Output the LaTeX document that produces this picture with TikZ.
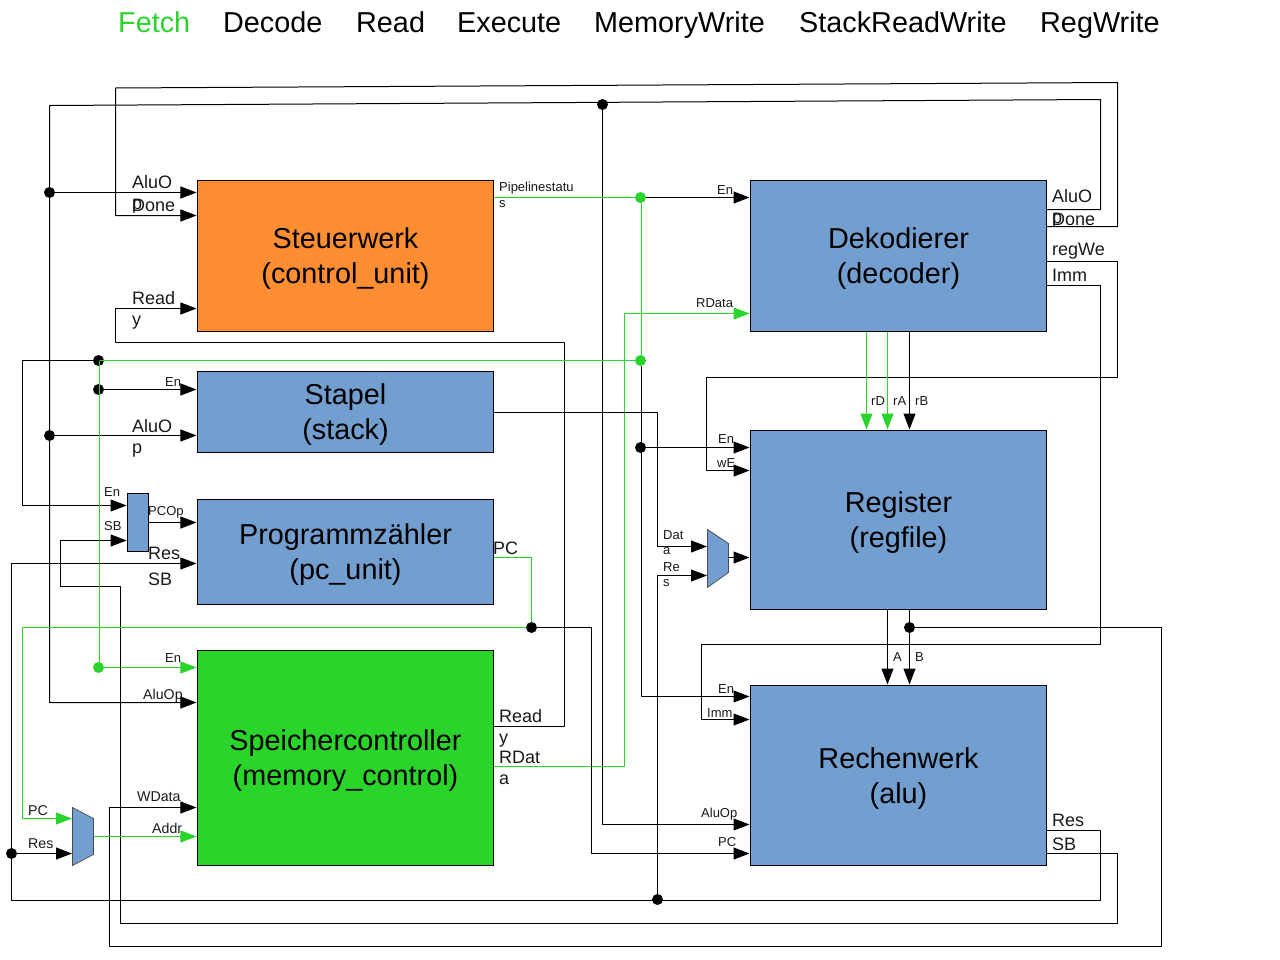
\documentclass[tikz,border=0pt]{standalone}
\usepackage{fontspec}
\setmainfont{Liberation Sans}
\usetikzlibrary{arrows.meta}

\definecolor{unitblue}{HTML}{729FCF}
\definecolor{unitorange}{HTML}{FF8E33}
\definecolor{activegreen}{HTML}{2BD42B}

\begin{document}
\begin{tikzpicture}[
  x=1bp, y=-1bp,
  every node/.style={align=center},
  %% unit boxes
  unit/.style={
    draw=black, line width=1bp, inner sep=0pt, minimum width=296bp,
    text height=62pt, text depth=6pt,
    font=\fontsize{28.9}{35.1}\selectfont},
  smallbox/.style={draw=black, fill=unitblue, line width=0.8bp, inner sep=0pt},
  muxbox/.style={draw=black!70, fill=unitblue, line width=0.7bp},
  %% junction dots
  dot/.style={circle, fill=black, minimum size=11bp, inner sep=0pt},
  gdot/.style={dot, fill=activegreen},
  %% wires
  wire/.style={line width=1bp, line join=round, color=black},
  gwire/.style={wire, color=activegreen},
  arr/.style={wire, -{Triangle[length=16bp,width=12bp]}, shorten >=0.5bp},
  garr/.style={gwire, -{Triangle[length=16bp,width=12bp]}, shorten >=0.5bp},
  %% labels
  stage/.style={anchor=base west, inner sep=0pt, font=\fontsize{28.9}{35.1}\selectfont},
  biglab/.style={anchor=north west, inner sep=0pt, align=left,
    font=\fontsize{18.07}{21.1}\selectfont, text=black!90},
  medlab/.style={anchor=north west, inner sep=0pt, align=left,
    font=\fontsize{14.25}{16}\selectfont, text=black!90},
  smalllab/.style={anchor=north west, inner sep=0pt, align=left,
    font=\fontsize{13.05}{15.5}\selectfont, text=black!90}
]
  \useasboundingbox (0,0) rectangle (1280,960);

  \begin{scope}[shift={(0.5,0.5)}]
  %% units
  \node[unit, fill=unitorange, minimum height=151bp] (ctrl) at (345,255.5) {Steuerwerk\\(control\_unit)};
  \node[unit, fill=unitblue, minimum height=81bp] (stack) at (345,411.5) {Stapel\\(stack)};
  \node[unit, fill=unitblue, minimum height=105bp] (pcu) at (345,551.5) {Programmzähler\\(pc\_unit)};
  \node[unit, fill=activegreen, minimum height=215bp] (mem) at (345,757.5) {Speichercontroller\\(memory\_control)};
  \node[unit, fill=unitblue, minimum height=151bp] (dec) at (898,255.5) {Dekodierer\\(decoder)};
  \node[unit, fill=unitblue, minimum height=179bp] (regf) at (898,519.5) {Register\\(regfile)};
  \node[unit, fill=unitblue, minimum height=180bp] (alu) at (898,775) {Rechenwerk\\(alu)};

  %% small selector blocks
  \node[smallbox, minimum width=21bp, minimum height=58bp] (pcop) at (137.5,522) {};
  \draw[muxbox] (72,807) -- (93,818) -- (93,854) -- (72,865) -- cycle;
  \coordinate (memmuxin) at (72,836);
  \coordinate (memmuxout) at (93,836);
  \draw[muxbox] (707,529) -- (728,543) -- (728,572) -- (707,587) -- cycle;
  \coordinate (regmuxin) at (707,558);
  \coordinate (regmuxout) at (728,557);

  %% junctions
  \node[dot] (jalu1) at (49,192) {};
  \node[dot] (jalu2) at (49,435) {};
  \node[dot] (jalu3) at (602,104) {};
  \node[gdot] (jpipe) at (640,197) {};
  \node[gdot] (jen) at (640,360) {};
  \node[dot] (jenreg) at (640,447) {};
  \node[dot] (jenleft) at (98,360) {};
  \coordinate (jengreen) at (99,360);
  \node[dot] (jenstack) at (98,389) {};
  \node[gdot] (jenmem) at (98,667) {};
  \node[dot] (jpc) at (531,627) {};
  \node[dot] (jb) at (909,627) {};
  \node[dot] (jres) at (657,899) {};
  \node[dot] (jresmux) at (11,853) {};

  %% Done and AluOp from the decoder
  \draw[arr] (dec.east |- 0,226) -- (1117,226) -- (1117,82) -- (115,87.5) -- (115,215) -- (ctrl.west |- 0,215);
  \draw[arr] (dec.east |- 0,209) -- (1100,209) -- (1100,99) -- (49,105) -- (49,702) -- (mem.west |- 0,702);
  \draw[arr] (jalu1) -- (ctrl.west |- jalu1);
  \draw[arr] (jalu2) -- (stack.west |- jalu2);
  \draw[arr] (jalu3) -- (602,824) -- (alu.west |- 0,824);

  %% Ready
  \draw[arr] (mem.east |- 0,726) -- (564,726) -- (564,342) -- (115,342) -- (115,308) -- (ctrl.west |- 0,308);

  %% Pipelinestatus and enables
  \draw[gwire] (ctrl.east |- jpipe) -- (jpipe);
  \draw[arr] (jpipe) -- (dec.west |- jpipe);
  \draw[gwire] (jpipe.south -| 641,0) -- (jen.north -| 641,0);
  \draw[gwire] (jen) -- (jengreen);
  \draw[arr] (jenleft) -- (22,360) -- (22,505) -- (pcop.west |- 0,505);
  \draw[garr] (jengreen) -- (99,667) -- (mem.west |- jenmem);
  \draw[arr] (jenstack) -- (stack.west |- jenstack);
  \draw[arr] (jen.south -| 641,0) -- (641,696) -- (alu.west |- 0,696);
  \draw[arr] (jenreg) -- (regf.west |- jenreg);

  %% RData
  \draw[garr] (mem.east |- 0,766) -- (624,766) -- (624,313) -- (dec.west |- 0,313);

  %% into the register selector
  \draw[arr] (stack.east |- 0,412) -- (657,412) -- (657,546) -- (regmuxin |- 0,546);
  \draw[arr] (jres) -- (657,575) -- (regmuxin |- 0,575);
  \draw[arr] (regmuxout) -- (regf.west |- regmuxout);

  %% Res and SB from the alu
  \draw[arr] (alu.east |- 0,830) -- (1100,830) -- (1100,900) -- (11,900) -- (11,563) -- (pcu.west |- 0,563);
  \draw[arr] (jresmux) -- (memmuxin |- jresmux);
  \draw[arr] (alu.east |- 0,853) -- (1117,853) -- (1117,923) -- (120,923) -- (120,586) -- (60,586) -- (60,540) -- (pcop.west |- 0,540);
  \draw[arr] (pcop.east) -- (pcu.west |- pcop.east);

  %% regWe and Imm
  \draw[arr] (dec.east |- 0,261) -- (1117,261) -- (1117,377) -- (706,377) -- (706,470) -- (regf.west |- 0,470);
  \draw[arr] (dec.east |- 0,285) -- (1100,285) -- (1100,644) -- (701,644) -- (701,719) -- (alu.west |- 0,719);

  %% decoder to register file
  \draw[garr] (dec.south -| 866,0) -- (regf.north -| 866,0);
  \draw[garr] (dec.south -| 887,0) -- (regf.north -| 887,0);
  \draw[arr] (dec.south -| 909,0) -- (regf.north -| 909,0);

  %% register file to alu
  \draw[arr] (regf.south -| 887,0) -- (alu.north -| 887,0);
  \draw[arr] (regf.south -| 909,0) -- (alu.north -| 909,0);
  \draw[arr] (jb) -- (1161,627) -- (1161,946) -- (109,946) -- (109,807) -- (mem.west |- 0,807);

  %% PC
  \draw[gwire] (pcu.east |- 0,557) -- (531,557) -- (jpc);
  \draw[garr] (jpc) -- (22,627) -- (22,818) -- (memmuxin |- 0,818);
  \draw[arr] (jpc) -- (591,627) -- (591,853) -- (alu.west |- 0,853);
  \draw[garr] (memmuxout) -- (mem.west |- memmuxout);
  \end{scope}

  \begin{scope}[yshift=-0.5bp]
  %% pipeline stages
  \node[stage, text=activegreen] (sfetch) at (118,32) {Fetch};
  \node[stage] (sdecode) at (223,32) {Decode};
  \node[stage] (sread) at (356,32) {Read};
  \node[stage] (sexec) at (457,32) {Execute};
  \node[stage] (smem) at (594,32) {MemoryWrite};
  \node[stage] (sstack) at (799,32) {StackReadWrite};
  \node[stage] (sreg) at (1040,32) {RegWrite};

  %% labels around the control unit
  \node[biglab] (lcalu) at (132,175) {AluO\\p};
  \node[biglab] (lcdone) at (132,198) {Done};
  \node[biglab] (lcready) at (132,291) {Read\\y};
  \node[smalllab] (lcpipe) at (499,181.5) {Pipelinestatu\\s};

  %% labels around stack and pc unit
  \node[smalllab] (lsen) at (165,376.5) {En};
  \node[biglab] (lsalu) at (132,419) {AluO\\p};
  \node[smalllab] (lpen) at (104,486.5) {En};
  \node[smalllab] (lpsb) at (104,520.5) {SB};
  \node[smalllab] (lpop) at (148,505.5) {PCOp};
  \node[biglab] (lpres) at (148,546) {Res\\[5pt]SB};
  \node[biglab] (lpc) at (493,541) {PC};

  %% labels around the memory controller
  \node[smalllab] (lmen) at (165,652.5) {En};
  \node[medlab] (lmalu) at (143,688.5) {AluOp};
  \node[medlab] (lmw) at (137,791.5) {WData};
  \node[medlab] (lmaddr) at (152,822.5) {Addr};
  \node[medlab] (lmpc) at (28,804.5) {PC};
  \node[medlab] (lmres) at (28,838.5) {Res};
  \node[biglab] (lmready) at (499,709) {Read\\y};
  \node[biglab] (lmrdata) at (499,750) {RDat\\a};

  %% labels around the decoder
  \node[smalllab] (lden) at (717,184.5) {En};
  \node[smalllab] (ldrd) at (696,297.5) {RData};
  \node[biglab] (ldalu) at (1052,189) {AluO\\p};
  \node[biglab] (lddone) at (1052,212) {Done};
  \node[biglab] (ldwe) at (1052,242) {regWe};
  \node[biglab] (ldimm) at (1052,268) {Imm};
  \node[smalllab] (lrd) at (871,395.5) {rD};
  \node[smalllab] (lra) at (893,395.5) {rA};
  \node[smalllab] (lrb) at (915,395.5) {rB};

  %% labels around the register file
  \node[smalllab] (lren) at (718,433.5) {En};
  \node[smalllab] (lrwe) at (717,457.5) {wE};
  \node[smalllab] (lrdat) at (663,529.5) {Dat\\a};
  \node[smalllab] (lrres) at (663,561.5) {Re\\s};

  %% labels around the alu
  \node[smalllab] (laa) at (893,651.5) {A};
  \node[smalllab] (lab) at (915,651.5) {B};
  \node[smalllab] (laen) at (718,683.5) {En};
  \node[smalllab] (laimm) at (707,707.5) {Imm};
  \node[smalllab] (laalu) at (701,807.5) {AluOp};
  \node[smalllab] (lapc) at (718,836.5) {PC};
  \node[biglab] (lares) at (1052,813) {Res};
  \node[biglab] (lasb) at (1052,837) {SB};
  \end{scope}
\end{tikzpicture}
\end{document}
